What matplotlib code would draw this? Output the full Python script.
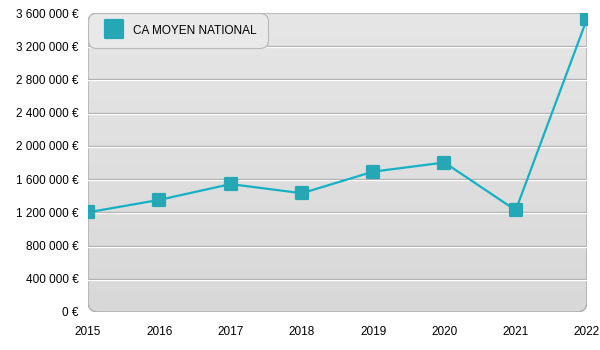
import numpy as np
import matplotlib
matplotlib.use("Agg")
import matplotlib.pyplot as plt
from matplotlib.patches import FancyBboxPatch
from matplotlib.markers import MarkerStyle
from matplotlib.lines import Line2D
from matplotlib.ticker import FuncFormatter
import matplotlib.transforms as mtransforms

# --------------------------
# Data
# --------------------------
years = [2015, 2016, 2017, 2018, 2019, 2020, 2021, 2022]
ca_moyen = [1200000, 1350000, 1540000, 1430000, 1690000, 1800000, 1225000, 3530000]
series_name = "CA MOYEN NATIONAL"
y_ticks = list(range(0, 3600001, 400000))

plt.rcParams['font.family'] = ['Liberation Sans', 'DejaVu Sans']

TEAL = "#15b1c4"
MARK = "#25a7b6"

fig = plt.figure(figsize=(6, 3.5), dpi=100)
ax = fig.add_axes([88 / 600, 1 - 312 / 350, 499 / 600, 299 / 350])
ax.patch.set_visible(False)

ax.set_xlim(years[0], years[-1])
ax.set_ylim(y_ticks[0], y_ticks[-1])

# rounded plot area with a soft vertical gradient
frame = FancyBboxPatch((0, 0), 1, 1, boxstyle="round,pad=0,rounding_size=0.02",
                       mutation_aspect=499 / 299, transform=ax.transAxes,
                       facecolor="none", edgecolor="#aaaaaa", linewidth=1.0, zorder=1)
ax.add_patch(frame)
grad = np.linspace(0, 1, 256).reshape(-1, 1)
bg = ax.imshow(grad, extent=[0, 1, 0, 1], transform=ax.transAxes, aspect="auto",
               cmap=matplotlib.colors.LinearSegmentedColormap.from_list(
                   "bg", ["#d8d8d8", "#e6e6e6"]),
               origin="lower", zorder=0)
bg.set_clip_path(frame)

# embossed grid lines (grey line with a white line just under it)
down = mtransforms.ScaledTranslation(0, -1 / 100, fig.dpi_scale_trans)
for t in y_ticks[1:-1]:
    ax.plot([0, 1], [t, t], color="#a9a9a9", linewidth=0.9, zorder=2,
            transform=ax.get_yaxis_transform())
    ax.plot([0, 1], [t, t], color="white", linewidth=0.9, zorder=2,
            transform=ax.get_yaxis_transform() + down)

marker = MarkerStyle("s", joinstyle="round")
ax.plot(years, ca_moyen, color=TEAL, linewidth=1.6, zorder=3)
ax.plot(years, ca_moyen, linestyle="none", marker=marker, markersize=8,
        markerfacecolor=MARK, markeredgecolor=MARK, markeredgewidth=1.6, zorder=4)

for s in ax.spines.values():
    s.set_visible(False)

ax.set_xticks(years)
ax.set_yticks(y_ticks)
ax.yaxis.set_major_formatter(FuncFormatter(lambda v, p: f"{v:,.0f}".replace(",", " ") + " €"))
ax.tick_params(axis="both", length=0, labelsize=8.5, colors="black")
ax.tick_params(axis="y", pad=7)
ax.tick_params(axis="x", pad=10)

handle = Line2D([], [], linestyle="none", marker=marker, markersize=12.5,
                markerfacecolor=MARK, markeredgecolor=MARK, markeredgewidth=1.6)
leg = ax.legend([handle], [series_name], loc="upper left", bbox_to_anchor=(0, 1),
                borderaxespad=0, fontsize=8.5, fancybox=True, framealpha=1,
                facecolor="#e9e9e9", edgecolor="#b8b8b8", borderpad=0.9,
                handlelength=2.6, handleheight=1.4, handletextpad=0.35)
leg.get_frame().set_linewidth(0.8)
leg.get_frame().set_boxstyle("round,pad=0,rounding_size=0.7")
leg.set_zorder(5)

fig.savefig("out.png", dpi=100)
